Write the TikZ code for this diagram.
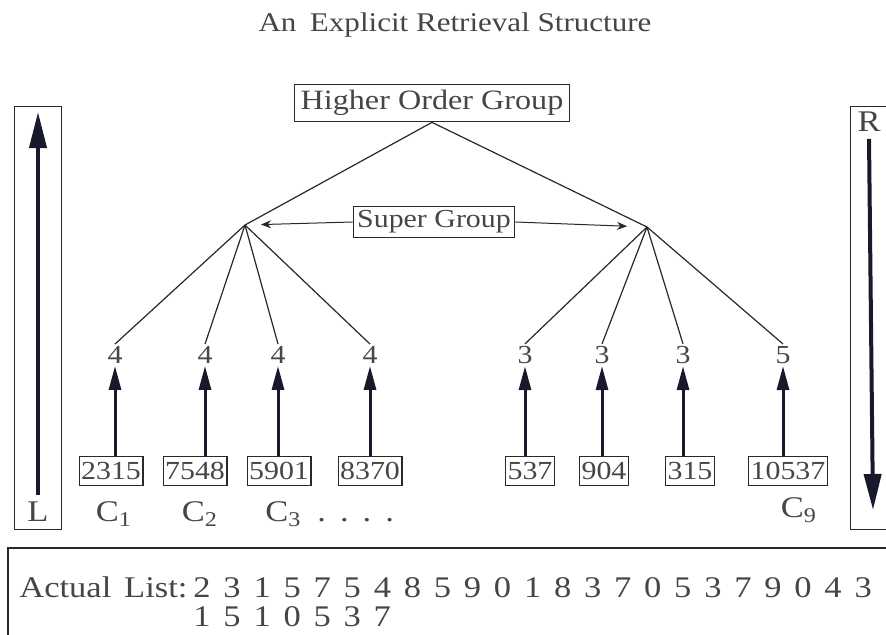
\documentclass[tikz,border=0pt]{standalone}
\usepackage{fontspec}
\setmainfont{Liberation Serif}[FakeStretch=1.15]
\usetikzlibrary{arrows.meta}
\definecolor{ink}{RGB}{70,70,70}
\definecolor{lineink}{RGB}{40,40,40}
\definecolor{arrowink}{RGB}{25,25,45}
\newcommand{\listspacing}{\frenchspacing\spaceskip=6.4pt\relax}
\tikzset{
  fs/.style={font=\fontsize{#1}{#1}\selectfont},
  framebox/.style={draw=lineink, line width=0.6pt},
  numbox/.style={framebox, inner xsep=1pt, inner ysep=3pt, fs=13},
  count/.style={fs=13, inner sep=1pt},
  sidebox/.style={framebox, minimum width=23.5pt, minimum height=211.5pt},
  listtext/.style={font=\fontsize{15}{14.5}\selectfont\listspacing},
  tree/.style={lineink, line width=0.6pt},
  uparrow/.style={arrowink, line width=1.5pt, -{Triangle[length=12pt,width=6pt]}},
  bigarrow/.style={arrowink, line width=2pt, -{Triangle[length=18pt,width=8.5pt]}},
  spanarrow/.style={lineink, line width=0.5pt, -{Stealth[length=5pt,width=4pt]}},
}
\begin{document}
\begin{tikzpicture}[x=0.5pt, y=-0.5pt, text=ink]
    \useasboundingbox (0,0) rectangle (886,634);
    \fill[white] (0,0) rectangle (886,634);

    \node[fs=13.5] (title) at (455,25) {An\enspace Explicit Retrieval Structure};

    % top of the tree
    \node[framebox, fs=14, inner sep=3pt] (hog) at (432,103) {Higher Order Group};
    \node[framebox, fs=13, inner sep=2pt] (sg) at (434,222) {Super Group};
    \coordinate (lg) at (245,225);
    \coordinate (rg) at (647,227);
    \draw[tree] (lg) -- (hog.south) -- (rg);
    \draw[spanarrow, shorten >=8pt] (sg.west) -- (lg);
    \draw[spanarrow, shorten >=10pt] (sg.east) -- (rg);

    % group sizes
    \foreach \n/\x/\v in {1/115/4, 2/205/4, 3/278/4, 4/370/4, 5/525/3, 6/602/3, 7/683/3, 8/783/5}
        \node[count] (c\n) at (\x,355) {\v};
    \foreach \n in {1,...,4}
        \draw[tree] (lg) -- (c\n.north);
    \foreach \n in {5,...,8}
        \draw[tree] (rg) -- (c\n.north);

    % chunks
    \foreach \n/\x/\v in {1/111/2315, 2/195/7548, 3/279/5901, 4/370/8370, 5/530/537, 6/604/904, 7/690/315, 8/788/10537}
        \node[numbox] (b\n) at (\x,471) {\v};
    \foreach \n in {1,...,8}
        \draw[uparrow] (c\n |- b\n.north) -- (c\n.south);

    \node[fs=15] (k1) at (114,514) {C\textsubscript{1}};
    \node[fs=15] (k2) at (200,514) {C\textsubscript{2}};
    \node[fs=15, anchor=west, inner sep=0pt] (k3) at (265,514) {C\textsubscript{3}\hspace{8pt}.\hspace{7pt}.\hspace{7pt}.\hspace{7pt}.};
    \node[fs=15] (k9) at (799,510) {C\textsubscript{9}};

    % encoding and retrieval
    \node[sidebox] (lbox) at (38,318) {};
    \node[fs=15] (L) at (38,512) {L};
    \coordinate (ltop) at (38,112);
    \draw[bigarrow] (L.north) -- (ltop);
    \node[sidebox] (rbox) at (874,318) {};
    \node[fs=15] (R) at (869,122) {R};
    \coordinate (rbot) at (873,510);
    \draw[bigarrow] (R.south) -- (rbot);

    % the list
    \draw[lineink, line width=0.8pt] (8,548) rectangle (900,660);
    \node[listtext, anchor=north west, inner sep=0pt, align=left] (list) at (19,576)
        {Actual List:\hspace{3pt}2 3 1 5 7 5 4 8 5 9 0 1 8 3 7 0 5 3 7 9 0 4 3\\
         \hphantom{Actual List:\hspace{3pt}}1 5 1 0 5 3 7};
\end{tikzpicture}
\end{document}
